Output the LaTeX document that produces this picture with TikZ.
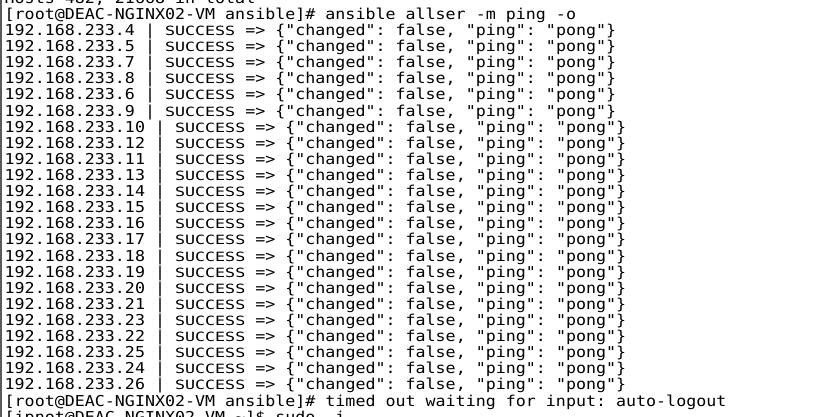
\documentclass[tikz,border=0pt]{standalone}
\usepackage{fontspec}
\setmonofont[FakeStretch=1.11]{DejaVu Sans Mono}
\usepackage{tikz}
\usetikzlibrary{calc}
\definecolor{termgray}{RGB}{90, 90, 90}
\tikzset{termline/.style = {anchor = base west, inner sep = 0pt, font = \ttfamily\fontsize{15}{16}\selectfont\frenchspacing}}
\newcommand{\pongtail}{| \scalebox{1}[0.85]{SUCCESS} => \{"changed": false, "ping": "pong"\}}

\begin{document}
\begin{tikzpicture}[x = 1pt, y = -1pt]
\useasboundingbox (0,0) rectangle (822,417);
\clip (0,0) rectangle (822,417);
\fill[white] (0,0) rectangle (822,417);
\draw[line width = 1.5pt, termgray] (1,0) -- (1,417);
\node[termline] (hosts) at (4.5, 3.3) {Hosts  482, 21668 in total};
\node[termline] (cmd) at (4.5, 19.4) {[root@DEAC-NGINX02-VM ansible]\# ansible allser -m ping -o};
\foreach \ip [count = \k] in {4,5,7,8,6,9,10,12,11,13,14,15,16,17,18,19,20,21,23,22,25,24,26}
  \node[termline] (host\k) at (4.5, {19.4 + 16.11*\k}) {192.168.233.\ip{} \pongtail};
\node[termline] (logout) at (4.5, 406) {[root@DEAC-NGINX02-VM ansible]\# timed out waiting for input: auto-logout};
\node[termline] (sudo) at (4.5, 422.1) {[ipnot@DEAC-NGINX02-VM \textasciitilde]\$ sudo -i};
\end{tikzpicture}
\end{document}
